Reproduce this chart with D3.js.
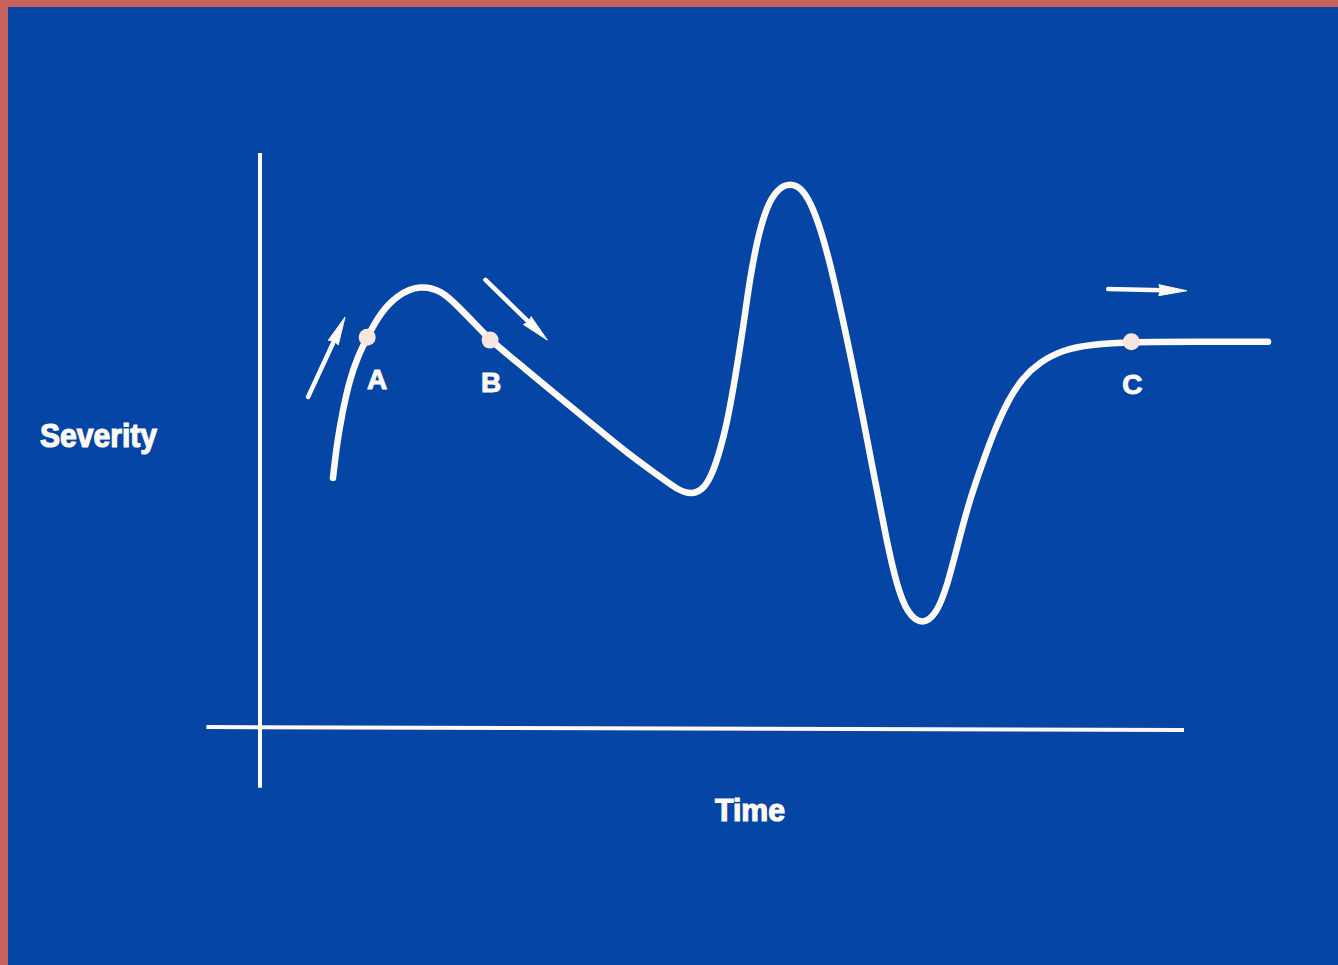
<!DOCTYPE html>
<html>
<head>
<meta charset="utf-8">
<script src="https://cdn.jsdelivr.net/npm/d3@7"></script>
<style>
  html, body { margin: 0; padding: 0; background: #0545a5; overflow: hidden; }
</style>
</head>
<body>
<div id="main"></div>
<script>
const ctx = {
    w: 1338,
    h: 965
};

// time (0-100 along the x axis) / severity (0-100 along the y axis)
const curveTime = [7.9, 8.3, 8.9, 9.7, 10.6, 11.6, 13.0, 14.9, 17.3, 19.7, 21.4, 23.3, 24.9,
    28.7, 32.5, 36.3, 40.0, 43.3, 45.1, 46.8, 48.1, 49.0, 49.8, 50.5, 51.4, 52.3, 53.0,
    53.8, 54.8, 56.0, 57.4, 58.7, 59.9, 61.2, 62.5, 63.9, 65.2, 66.5, 67.8, 68.9, 70.1,
    71.7, 73.2, 74.4, 75.5, 76.8, 78.3, 79.6, 81.0, 82.5, 84.4, 86.9, 89.8, 94.3, 101.7, 109.1];
const curveSeverity = [43.4, 49.1, 54.7, 60.5, 64.6, 67.9, 72.1, 75.3, 77.0, 76.0, 73.3, 70.2, 67.4,
    62.4, 57.3, 52.3, 47.4, 43.6, 41.4, 40.4, 41.6, 44.3, 48.3, 52.6, 60.5, 69.7, 77.9,
    84.8, 90.6, 93.8, 94.8, 93.8, 90.4, 84.0, 75.3, 64.8, 54.4, 43.4, 32.6, 24.7, 19.6,
    17.8, 19.6, 24.7, 31.7, 39.6, 46.5, 52.1, 57.0, 60.8, 63.6, 65.7, 66.6, 67.1, 67.1, 67.1];

const pointLabels = ["A", "B", "C"];
const pointTime = [11.6, 24.9, 94.3];
const pointSeverity = [67.9, 67.4, 67.1];

// arrows: [tail time, tail severity, tip time, tip severity]
const arrows = [
    [5.2, 57.5, 9.2, 71.4],
    [24.4, 77.9, 31.1, 67.4],
    [91.8, 76.3, 100.3, 76.0]
];

const xAxisExtent = [-5.8, 100];
const yAxisExtent = [-10.6, 100];
const xTitle = "Time";
const yTitle = "Severity";

//==============================================================================================
function drawChart() {
    const svg = d3.select("#rootG");
    const white = "#fcf9f2";
    const font = "'Liberation Sans', Arial, sans-serif";

    const x = d3.scaleLinear().domain([0, 100]).range([260, 1184]);
    const y = d3.scaleLinear().domain([0, 100]).range([727, 153]);

    // axes
    svg.append("line")
        .attr("x1", x(0)).attr("x2", x(0))
        .attr("y1", y(yAxisExtent[0])).attr("y2", y(yAxisExtent[1]))
        .attr("stroke", white).attr("stroke-width", 4);
    svg.append("line")
        .attr("x1", x(xAxisExtent[0])).attr("x2", x(xAxisExtent[1]))
        .attr("y1", y(0)).attr("y2", y(0) + 3)
        .attr("stroke", white).attr("stroke-width", 4);

    // severity curve
    const pts = curveTime.map((t, i) => [t, curveSeverity[i]]);
    const line = d3.line()
        .x(d => x(d[0]))
        .y(d => y(d[1]))
        .curve(d3.curveBasis);
    svg.append("path")
        .attr("d", line(pts))
        .attr("fill", "none")
        .attr("stroke", white)
        .attr("stroke-width", 6.5)
        .attr("stroke-linecap", "round")
        .attr("stroke-linejoin", "round");

    // marked points
    svg.selectAll(".pt")
        .data(pointLabels)
        .enter().append("circle")
        .attr("class", "pt")
        .attr("cx", (d, i) => x(pointTime[i]))
        .attr("cy", (d, i) => y(pointSeverity[i]))
        .attr("r", 8.5)
        .attr("fill", "#f7e6e0");

    svg.selectAll(".ptLabel")
        .data(pointLabels)
        .enter().append("text")
        .attr("class", "ptLabel")
        .attr("x", (d, i) => x(pointTime[i]) + (i == 0 ? 10 : 1))
        .attr("y", (d, i) => y(pointSeverity[i]) + 52)
        .attr("text-anchor", "middle")
        .attr("font-family", font)
        .attr("font-weight", "bold")
        .attr("font-size", 28)
        .attr("fill", white)
        .attr("stroke", white)
        .attr("stroke-width", 1)
        .text(d => d);

    // arrows
    arrows.forEach(a => {
        const x0 = x(a[0]), y0 = y(a[1]), x1 = x(a[2]), y1 = y(a[3]);
        const len = Math.hypot(x1 - x0, y1 - y0);
        const ux = (x1 - x0) / len, uy = (y1 - y0) / len;
        const headL = 28, headW = 5.5;
        const bx = x1 - ux * headL, by = y1 - uy * headL;
        svg.append("line")
            .attr("x1", x0).attr("y1", y0)
            .attr("x2", bx + ux * 4).attr("y2", by + uy * 4)
            .attr("stroke", white).attr("stroke-width", 4.5)
            .attr("stroke-linecap", "round");
        svg.append("path")
            .attr("d", `M${x1},${y1} L${bx - uy * headW},${by + ux * headW} L${bx + ux * 2},${by + uy * 2} L${bx + uy * headW},${by - ux * headW} Z`)
            .attr("fill", white)
            .attr("stroke", white)
            .attr("stroke-width", 1)
            .attr("stroke-linejoin", "round");
    });

    // titles
    svg.append("text")
        .attr("x", 40)
        .attr("y", 447)
        .attr("font-family", font)
        .attr("font-weight", "bold")
        .attr("font-size", 33)
        .attr("textLength", 117)
        .attr("lengthAdjust", "spacingAndGlyphs")
        .attr("fill", white)
        .attr("stroke", white)
        .attr("stroke-width", 1.2)
        .text(yTitle);

    svg.append("text")
        .attr("x", 715)
        .attr("y", 821)
        .attr("font-family", font)
        .attr("font-weight", "bold")
        .attr("font-size", 31)
        .attr("textLength", 70)
        .attr("lengthAdjust", "spacingAndGlyphs")
        .attr("fill", white)
        .attr("stroke", white)
        .attr("stroke-width", 1.2)
        .text(xTitle);
}

//==============================================================================================
function createViz() {
    const svgEl = d3.select("#main").append("svg")
        .attr("width", ctx.w)
        .attr("height", ctx.h);
    svgEl.append("rect")
        .attr("width", ctx.w).attr("height", ctx.h)
        .attr("fill", "#0545a5");
    // photo frame edges
    svgEl.append("rect").attr("width", ctx.w).attr("height", 7).attr("fill", "#c8625c");
    svgEl.append("rect").attr("width", 8).attr("height", ctx.h).attr("fill", "#c8625c");
    svgEl.append("g").attr("id", "rootG");
    drawChart();
}

createViz();
</script>
</body>
</html>
